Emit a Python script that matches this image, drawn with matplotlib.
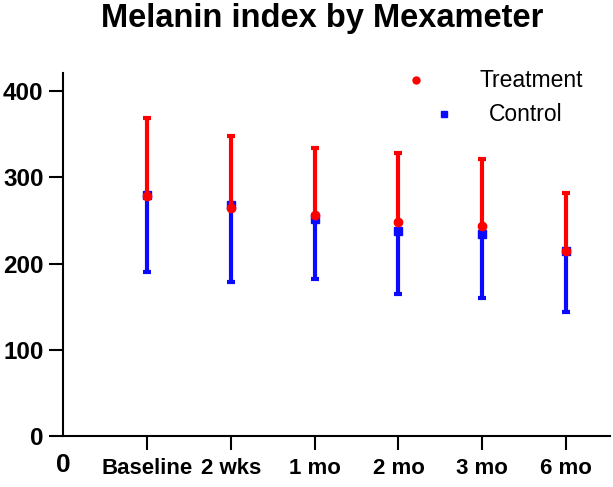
import matplotlib.pyplot as plt
import numpy as np

# Melanin index data
timepoints = ['Baseline', '2 wks', '1 mo', '2 mo', '3 mo', '6 mo']
treat_mean = [278, 265, 257, 248, 244, 215]
treat_err  = [91, 83, 77, 80, 77, 67]
ctrl_mean  = [280, 268, 252, 238, 234, 215]
ctrl_err   = [90, 89, 70, 73, 74, 71]

x = np.arange(1, len(timepoints) + 1)
font = 'Liberation Sans'

fig = plt.figure(figsize=(6.13, 4.87), dpi=100)
ax = fig.add_axes([0.1028, 0.1047, 0.892, 0.745])

# control first (blue, lower error), then treatment on top (red, upper error)
ax.errorbar(x, ctrl_mean, yerr=[ctrl_err, np.zeros(len(x))], fmt='s', color='#0a0aff',
            ms=5.5, elinewidth=3, capsize=2.6, capthick=3, zorder=2)
ax.errorbar(x, treat_mean, yerr=[np.zeros(len(x)), treat_err], fmt='o', color='#ff0000',
            ms=6, elinewidth=3, capsize=2.6, capthick=3, zorder=3)

ax.set_xlim(0, 6.52)
ax.set_ylim(0, 421)
ax.set_yticks([0, 100, 200, 300, 400])
ax.set_xticks(x)
ax.set_xticklabels(timepoints, fontsize=16, fontweight='bold', family=font)
for lab in ax.get_yticklabels():
    lab.set_fontsize(17.5)
    lab.set_fontweight('bold')
    lab.set_family(font)

ax.text(0, -0.08, '0', transform=ax.get_xaxis_transform(), ha='center', va='center',
        fontsize=19, fontweight='bold', family=font)

for s in ['top', 'right']:
    ax.spines[s].set_visible(False)
for s in ['left', 'bottom']:
    ax.spines[s].set_linewidth(1.5)
ax.tick_params(axis='y', width=1.5, length=10, pad=4)
ax.tick_params(axis='x', width=1.5, length=10, pad=6)

# legend drawn in axes coordinates to match the original layout
ax.plot([0.645], [0.981], 'o', color='#ff0000', ms=5, transform=ax.transAxes, clip_on=False)
ax.text(0.856, 0.981, 'Treatment', transform=ax.transAxes, ha='center', va='center',
        fontsize=16.5, family=font)
ax.plot([0.697], [0.887], 's', color='#0a0aff', ms=5, transform=ax.transAxes, clip_on=False)
ax.text(0.846, 0.887, 'Control', transform=ax.transAxes, ha='center', va='center',
        fontsize=16.5, family=font)

fig.text(0.525, 0.962, 'Melanin index by Mexameter', ha='center', va='center',
         fontsize=23.5, fontweight='bold', family=font)

fig.savefig('out.png', dpi=100)
